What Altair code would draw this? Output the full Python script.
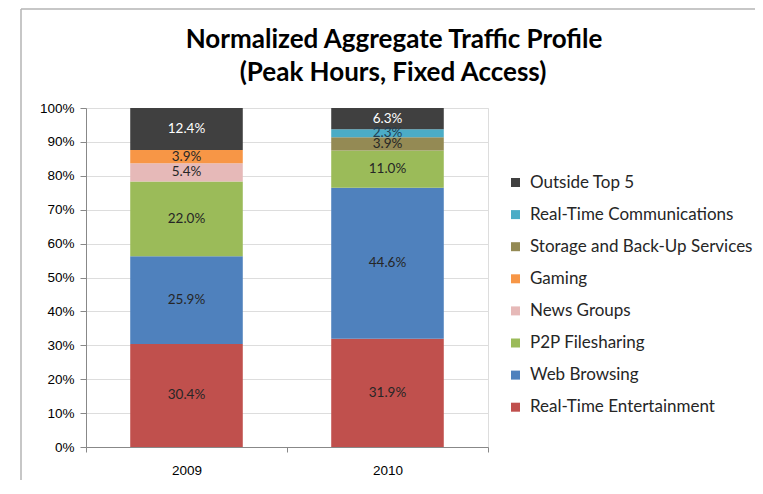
import altair as alt
import pandas as pd

# Stack order: bottom -> top
categories = [
    "Real-Time Entertainment",
    "Web Browsing",
    "P2P Filesharing",
    "News Groups",
    "Gaming",
    "Storage and Back-Up Services",
    "Real-Time Communications",
    "Outside Top 5",
]
years = ["2009", "2010"]
values_2009 = [30.4, 25.9, 22.0, 5.4, 3.9, 0.0, 0.0, 12.4]
values_2010 = [31.9, 44.6, 11.0, 0.0, 0.0, 3.9, 2.3, 6.3]
colors = ["#c0504d", "#4f81bd", "#9bbb59", "#e6b9b8", "#f79646", "#948a54", "#4bacc6", "#404040"]
label_colors = ["#262626", "#262626", "#262626", "#262626", "#262626", "#262626", "#1f3f55", "#ffffff"]
y_ticks = [0, 10, 20, 30, 40, 50, 60, 70, 80, 90, 100]
title_lines = ["Normalized Aggregate Traffic Profile", "(Peak Hours, Fixed Access)"]

rows = []
for year, vals in zip(years, [values_2009, values_2010]):
    for i, (cat, v) in enumerate(zip(categories, vals)):
        rows.append({"year": year, "category": cat, "value": v, "idx": i, "lcolor": label_colors[i]})
df = pd.DataFrame(rows)

legend_domain = categories[::-1]
legend_range = colors[::-1]

FONT = "Lato"

yaxis = alt.Axis(title=None, values=y_ticks, labelExpr="datum.value + '%'",
                 tickSize=6, labelPadding=6, grid=True, labelFontSize=13.5)
yscale = alt.Scale(domain=[0, 100], nice=False)
xscale = alt.Scale(paddingInner=0, paddingOuter=0)
xaxis = alt.Axis(title=None, labelAngle=0, tickBand="extent", grid=False,
                 tickSize=5, labelPadding=11, labelFontSize=13.5)

base = alt.Chart(df).transform_filter("datum.value > 0")

bars = base.mark_bar(width=alt.RelativeBandSize(0.56)).encode(
    x=alt.X("year:N", scale=xscale, axis=xaxis),
    y=alt.Y("value:Q", stack="zero", scale=yscale, axis=yaxis),
    color=alt.Color(
        "category:N",
        scale=alt.Scale(domain=legend_domain, range=legend_range),
        legend=alt.Legend(
            title=None, orient="none", legendX=421, legendY=66,
            symbolType="square", symbolSize=81, symbolStrokeWidth=0,
            labelFont=FONT, labelFontSize=17, labelColor="#262626",
            rowPadding=14.1, labelOffset=6, labelLimit=0,
        ),
    ),
    order=alt.Order("idx:Q", sort="ascending"),
)

labels = (
    base.transform_stack(
        stack="value", groupby=["year"], as_=["v0", "v1"],
        sort=[alt.SortField("idx", order="ascending")],
    )
    .transform_calculate(mid="(datum.v0 + datum.v1) / 2",
                         txt="format(datum.value, '.1f') + '%'")
    .mark_text(font=FONT, fontSize=13.5)
    .encode(
        x=alt.X("year:N", scale=xscale, axis=xaxis),
        y=alt.Y("mid:Q", scale=yscale, axis=yaxis),
        text="txt:N",
        color=alt.Color("lcolor:N", scale=None),
    )
)

frame_data = pd.DataFrame({"a": [0]})
frame_left = alt.Chart(frame_data).mark_rule(
    stroke="#b5b5b5", strokeWidth=1.5, clip=False
).encode(x=alt.value(-65), y=alt.value(-99), y2=alt.value(420))
frame_top = alt.Chart(frame_data).mark_rule(
    stroke="#b5b5b5", strokeWidth=1.5, clip=False
).encode(x=alt.value(-65), x2=alt.value(2000), y=alt.value(-99))

title1 = alt.Chart(pd.DataFrame({"t": [title_lines[0]]})).mark_text(
    font=FONT, fontSize=26, fontWeight="bold", color="#000000", baseline="middle", align="center"
).encode(text="t:N", x=alt.value(308), y=alt.value(-68))

title2 = alt.Chart(pd.DataFrame({"t": [title_lines[1]]})).mark_text(
    font=FONT, fontSize=26, fontWeight="bold", color="#000000", baseline="middle", align="center"
).encode(text="t:N", x=alt.value(307), y=alt.value(-35))

chart = (
    alt.layer(frame_left, frame_top, bars, labels, title1, title2)
    .properties(
        width=402,
        height=339,
        autosize=alt.AutoSizeParams(type="none"),
        padding={"left": 78, "top": 100, "right": 267, "bottom": 33},
    )
    .configure_view(stroke=None)
    .configure_axis(
        labelFont=FONT, labelColor="#404040",
        gridColor="#a8a8a8", domainColor="#8c8c8c", tickColor="#8c8c8c",
    )
    .configure(background="white")
)

chart.save("out.html", embed_options={"renderer": "svg", "actions": False})
